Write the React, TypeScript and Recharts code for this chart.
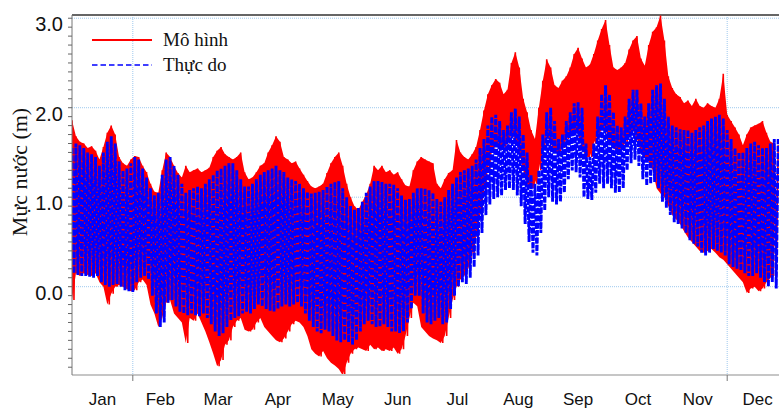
import { Area, CartesianGrid, ComposedChart, Line, ReferenceLine, XAxis, YAxis } from "recharts";

// Water level envelope readings (m). Highs fall on even days, lows on odd days,
// so the series zigzags between them like the tidal signal.
const redHigh = [
  1.86, 1.68, 1.62, 1.6, 1.55, 1.57, 1.52, 1.42, 1.56, 1.72,
  1.8, 1.7, 1.45, 1.38, 1.35, 1.42, 1.46, 1.45, 1.35, 1.28,
  1.15, 1.06, 1.05, 1.3, 1.5, 1.45, 1.35, 1.27, 1.22, 1.35,
  1.28, 1.3, 1.32, 1.28, 1.3, 1.33, 1.45, 1.52, 1.56, 1.48,
  1.45, 1.42, 1.45, 1.5, 1.28, 1.2, 1.22, 1.28, 1.35, 1.38,
  1.5, 1.58, 1.68, 1.62, 1.45, 1.42, 1.38, 1.4, 1.32, 1.25,
  1.18, 1.12, 1.1, 1.12, 1.15, 1.27, 1.38, 1.45, 1.5, 1.35,
  1.15, 1.0, 0.9, 0.86, 0.95, 1.03, 1.15, 1.35, 1.3, 1.35,
  1.28, 1.3, 1.25, 1.28, 1.2, 1.13, 1.12, 1.3, 1.4, 1.45,
  1.42, 1.4, 1.38, 1.15, 1.1, 1.2, 1.27, 1.3, 1.64, 1.5,
  1.45, 1.42, 1.48, 1.56, 1.75, 1.97, 2.15, 2.25, 2.32, 2.28,
  2.15, 2.2, 2.5, 2.62, 2.45, 2.1, 1.95, 1.75, 1.65, 2.0,
  2.3, 2.54, 2.45, 2.25, 2.22, 2.3, 2.35, 2.45, 2.6, 2.67,
  2.55, 2.45, 2.48, 2.6, 2.75, 2.88, 2.98, 2.7, 2.45, 2.42,
  2.45, 2.5, 2.65, 2.75, 2.8, 2.55, 2.47, 2.7, 2.85, 2.9,
  3.03, 2.75, 2.35, 2.22, 2.15, 2.12, 2.05, 2.08, 2.02, 2.1,
  2.02, 2.0, 2.05, 2.02, 2.0, 2.1, 2.38, 1.92, 1.85, 1.78,
  1.7, 1.58, 1.7, 1.78, 1.8, 1.82, 1.85, 1.72, 1.62, 1.6,
  1.58,
];

const redLow = [
  -0.15, 0.15, 0.12, 0.15, 0.13, 0.12, 0.15, 0.05, 0.0, -0.2,
  -0.08, 0.0, 0.02, 0.0, -0.03, -0.05, -0.04, 0.05, 0.08, 0.02,
  -0.2, -0.3, -0.45, -0.35, -0.18, -0.15, -0.3, -0.35, -0.4, -0.63,
  -0.35, -0.38, -0.3, -0.4, -0.5, -0.62, -0.75, -0.89, -0.82, -0.65,
  -0.6, -0.45, -0.38, -0.35, -0.48, -0.5, -0.48, -0.4, -0.35, -0.45,
  -0.5, -0.55, -0.6, -0.62, -0.58, -0.5, -0.42, -0.38, -0.4, -0.45,
  -0.55, -0.7, -0.75, -0.78, -0.72, -0.8, -0.85, -0.88, -0.92, -0.99,
  -0.85, -0.75, -0.7, -0.68, -0.7, -0.72, -0.65, -0.7, -0.68, -0.72,
  -0.7, -0.72, -0.68, -0.75, -0.7, -0.55, -0.35, -0.18, -0.22, -0.45,
  -0.5, -0.55, -0.58, -0.6, -0.63, -0.55, -0.35, -0.15, 0.0, 0.08,
  0.12, 0.2, 0.35, 0.55, 0.8, 1.05, 1.3, 1.5, 1.6, 1.55,
  1.55, 1.6, 1.7, 1.65, 1.5, 1.3, 1.15, 1.1, 1.15, 1.3,
  1.55, 1.7, 1.6, 1.5, 1.5, 1.55, 1.65, 1.72, 1.75, 1.7,
  1.55, 1.45, 1.45, 1.6, 1.7, 1.75, 1.75, 1.6, 1.55, 1.5,
  1.55, 1.6, 1.7, 1.75, 1.65, 1.5, 1.45, 1.4, 1.3, 1.1,
  1.04, 1.0, 0.9, 0.8, 0.75, 0.7, 0.62, 0.55, 0.5, 0.45,
  0.4, 0.38, 0.4, 0.42, 0.38, 0.33, 0.3, 0.25, 0.2, 0.15,
  0.1, 0.05, -0.07, -0.02, 0.0, -0.05, -0.02, 0.05, 0.1, 0.12,
];

const blueHigh = [
  1.55, 1.6, 1.58, 1.55, 1.5, 1.48, 1.45, 1.35, 1.5, 1.62,
  1.68, 1.6, 1.4, 1.3, 1.32, 1.38, 1.45, 1.42, 1.32, 1.22,
  1.1, 1.02, 1.05, 1.25, 1.42, 1.45, 1.35, 1.25, 1.15, 1.05,
  1.08, 1.1, 1.12, 1.1, 1.15, 1.2, 1.25, 1.3, 1.32, 1.35,
  1.38, 1.38, 1.3, 1.2, 1.12, 1.12, 1.15, 1.2, 1.25, 1.28,
  1.3, 1.32, 1.35, 1.3, 1.28, 1.22, 1.2, 1.18, 1.15, 1.1,
  1.06, 1.04, 1.05, 1.06, 1.08, 1.12, 1.15, 1.17, 1.18, 1.1,
  1.0, 0.9, 0.86, 0.88, 0.95, 1.05, 1.12, 1.18, 1.18, 1.17,
  1.15, 1.15, 1.14, 1.1, 1.02, 0.97, 0.98, 1.05, 1.1, 1.1,
  1.1, 1.08, 1.05, 0.98, 0.95, 1.0, 1.08, 1.15, 1.22, 1.28,
  1.3, 1.32, 1.35, 1.42, 1.55, 1.65, 1.8, 1.9, 1.92, 1.85,
  1.75, 1.8, 1.95, 1.99, 1.9, 1.7, 1.5, 1.25, 1.15, 1.3,
  1.7, 1.95, 2.0, 1.85, 1.65, 1.7, 1.85, 1.95, 2.05, 2.06,
  2.0, 1.6, 1.45, 1.6, 1.9, 2.15, 2.25, 2.15, 1.95, 1.8,
  1.78, 1.9, 2.1, 2.2, 2.2, 2.05, 1.9, 2.05, 2.2, 2.25,
  2.27, 2.1, 1.9, 1.8, 1.78, 1.76, 1.75, 1.75, 1.72, 1.75,
  1.78, 1.8, 1.85, 1.88, 1.9, 1.92, 1.88, 1.75, 1.65, 1.55,
  1.5, 1.5, 1.55, 1.6, 1.62, 1.58, 1.55, 1.55, 1.6, 1.65,
  1.65,
];

const blueLow = [
  0.15, 0.13, 0.12, 0.12, 0.11, 0.1, 0.12, 0.05, 0.02, 0.0,
  0.02, 0.03, 0.0, -0.04, -0.05, -0.06, 0.05, 0.1, 0.12, 0.08,
  -0.1, -0.3, -0.45, -0.4, -0.18, -0.15, -0.22, -0.28, -0.3, -0.32,
  -0.3, -0.32, -0.33, -0.3, -0.35, -0.42, -0.5, -0.55, -0.52, -0.45,
  -0.38, -0.35, -0.33, -0.3, -0.28, -0.3, -0.25, -0.2, -0.22, -0.25,
  -0.27, -0.28, -0.25, -0.22, -0.2, -0.22, -0.2, -0.18, -0.22, -0.3,
  -0.38, -0.45, -0.5, -0.52, -0.48, -0.5, -0.55, -0.6, -0.62, -0.6,
  -0.62, -0.65, -0.6, -0.5, -0.42, -0.38, -0.42, -0.45, -0.45, -0.42,
  -0.45, -0.5, -0.5, -0.52, -0.5, -0.4, -0.25, -0.1, -0.1, -0.3,
  -0.4, -0.42, -0.38, -0.35, -0.42, -0.4, -0.25, -0.1, 0.0, 0.05,
  0.03, 0.1, 0.22, 0.35, 0.6, 0.8, 0.92, 0.98, 1.0, 1.02,
  1.08, 1.1, 1.08, 1.02, 0.9, 0.7, 0.5, 0.38, 0.35, 0.6,
  0.85, 1.0, 0.95, 0.92, 0.95, 1.05, 1.2, 1.3, 1.28, 1.22,
  1.0, 0.98, 0.97, 1.05, 1.15, 1.1, 1.15, 1.1, 1.05, 1.05,
  1.1, 1.3, 1.38, 1.42, 1.35, 1.2, 1.13, 1.15, 1.17, 1.1,
  0.95, 0.88, 0.8, 0.72, 0.7, 0.65, 0.6, 0.52, 0.48, 0.45,
  0.38, 0.35, 0.38, 0.42, 0.4, 0.38, 0.35, 0.25, 0.22, 0.2,
  0.18, 0.15, 0.12, 0.12, 0.15, 0.1, 0.05, 0.0, 0.05, -0.02,
];

const months = ["Jan", "Feb", "Mar", "Apr", "May", "Jun", "Jul", "Aug", "Sep", "Oct", "Nov", "Dec"];
const monthStarts = [0, 31, 59, 90, 120, 151, 181, 212, 243, 273, 304, 334, 365];
const tickedStarts = [31, 334];
const levelTicks = Array.from({ length: 40 }, (_, i) => Math.round((-0.9 + i * 0.1) * 10) / 10);

const Y_MIN = -0.987;
const Y_MAX = 3.036;

const monthMids = months.map((_, i) => (monthStarts[i] + monthStarts[i + 1]) / 2);
const xTicks = [...monthMids, ...tickedStarts].sort((a, b) => a - b);

// one row per day; the model band pairs each high with the low that follows it
const data = Array.from({ length: redHigh.length + redLow.length }, (_, day) => {
  const k = Math.floor(day / 2);
  const even = day % 2 === 0;
  return {
    day,
    model: even ? redHigh[k] : redLow[k],
    observed: even ? blueHigh[k] : blueLow[k],
    modelBand: even && k < redLow.length ? [redLow[k], redHigh[k]] : null,
  };
});

const SANS = "'Liberation Sans', Arial, sans-serif";
const SERIF = "'Liberation Serif', 'Times New Roman', serif";

function MonthTick({ x, y, payload }: any) {
  const i = monthMids.indexOf(payload.value);
  if (i < 0) {
    return <line x1={x} x2={x} y1={y - 6} y2={y} stroke="#777" strokeWidth={1} />;
  }
  return (
    <text x={x} y={y + 24} textAnchor="middle" fontSize={17} fontFamily={SANS} fill="#111">
      {months[i]}
    </text>
  );
}

function LevelTick({ x, y, payload }: any) {
  const v = payload.value;
  if (!Number.isInteger(v)) return <g />;
  return (
    <text x={x} y={y + 13} textAnchor="end" fontSize={20} fontFamily={SANS} fill="#111">
      {v.toFixed(1)}
    </text>
  );
}

export default function App() {
  return (
    <div
      style={{
        position: "absolute",
        left: 0,
        top: 0,
        width: 779,
        height: 410,
        overflow: "hidden",
        background: "#fff",
      }}
    >
      <ComposedChart width={800} height={410} data={data} margin={{ top: 15, right: 12, bottom: 0, left: 0 }}>
        <CartesianGrid
          stroke="#9fc9ee"
          strokeDasharray="1 1"
          horizontalValues={[0, 1, 2, 3]}
          verticalValues={tickedStarts}
        />
        <XAxis
          dataKey="day"
          type="number"
          domain={[0, 365]}
          allowDataOverflow
          ticks={xTicks}
          interval={0}
          tick={<MonthTick />}
          tickLine={false}
          tickSize={6}
          tickMargin={0}
          height={35}
          axisLine={{ stroke: "#c6c6c6", strokeWidth: 2 }}
        />
        <YAxis
          type="number"
          domain={[Y_MIN, Y_MAX]}
          allowDataOverflow
          ticks={levelTicks}
          interval={0}
          width={72}
          tick={<LevelTick />}
          tickSize={4}
          tickMargin={5}
          tickLine={{ stroke: "#666" }}
          axisLine={{ stroke: "#777" }}
        />
        <ReferenceLine y={Y_MAX} stroke="#666" strokeWidth={2} />
        <Area
          dataKey="modelBand"
          type="linear"
          connectNulls
          stroke="none"
          fill="#ff0000"
          fillOpacity={1}
          legendType="none"
          isAnimationActive={false}
        />
        <Line
          dataKey="model"
          type="linear"
          stroke="#ff0000"
          strokeWidth={1.6}
          dot={false}
          isAnimationActive={false}
        />
        <Line
          dataKey="observed"
          type="linear"
          stroke="#0000ff"
          strokeWidth={2.9}
          strokeDasharray="6 1.4"
          dot={false}
          isAnimationActive={false}
        />
      </ComposedChart>
      <svg
        width={779}
        height={410}
        style={{ position: "absolute", left: 0, top: 0, pointerEvents: "none" }}
      >
        <text
          x={27}
          y={172}
          transform="rotate(-90 27 172)"
          textAnchor="middle"
          fontSize={22}
          fontFamily={SERIF}
          fill="#111"
        >
          Mực nước (m)
        </text>
        <line x1={92} x2={152} y1={40} y2={40} stroke="#ff0000" strokeWidth={2} />
        <text x={163} y={46} fontSize={19} fontFamily={SERIF} fill="#111">
          Mô hình
        </text>
        <line
          x1={92}
          x2={152}
          y1={65}
          y2={65}
          stroke="#0000ff"
          strokeWidth={1.5}
          strokeDasharray="5.5 3"
        />
        <text x={163} y={71} fontSize={19} fontFamily={SERIF} fill="#111">
          Thực do
        </text>
      </svg>
    </div>
  );
}
